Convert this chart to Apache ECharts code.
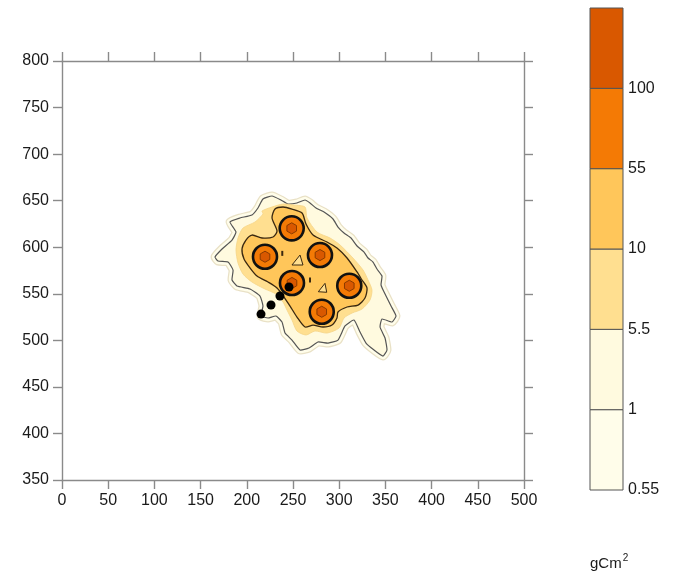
<!DOCTYPE html>
<html><head><meta charset="utf-8">
<script src="https://cdn.jsdelivr.net/npm/echarts@6/dist/echarts.min.js"></script>
<style>html,body{margin:0;padding:0;background:#fff}#c{width:679px;height:572px}</style>
</head><body><div id="c"></div>
<script>
// ---- data ----
const xRange = [0, 500];
const yRange = [350, 800];
const colorLevels = ['0.55', '1', '5.5', '10', '55', '100'];
const unitLabel = 'gCm';
const unitPower = '2';

// contour line of level 1 (outer edge of level 0.55 follows it closely)
const contour1 = [[217.5,651.8],[227.3,655.0],[237.0,650.7],[244.6,646.4],[254.3,647.5],[263.0,650.7],[268.4,647.5],[274.9,642.1],[283.6,637.8],[293.3,630.3],[298.7,621.7],[305.2,615.3],[312.8,609.9],[319.3,601.3],[326.9,594.8],[331.2,588.4],[336.6,584.1],[340.9,576.6],[346.3,569.1],[345.3,559.4],[350.7,547.6],[356.1,536.8],[361.5,526.1],[357.2,519.7],[346.3,522.9],[344.2,514.3],[349.6,502.5],[351.7,489.6],[347.4,483.1],[337.7,489.6],[329.0,497.1],[322.5,508.9],[316.0,521.8],[306.3,515.4],[298.7,500.3],[287.9,497.1],[277.1,498.2],[267.3,491.7],[257.6,489.6],[248.9,500.3],[241.4,507.8],[238.1,519.7],[231.6,526.1],[223.0,524.0],[215.4,526.1],[217.5,536.8],[214.3,547.6],[203.5,555.1],[189.4,558.3],[184.0,564.8],[185.1,575.5],[179.7,584.1],[168.8,585.2],[165.6,589.5],[173.2,598.1],[184.0,607.7],[188.3,616.3],[181.8,627.1],[192.6,631.4],[205.6,634.6],[212.1,642.1]];
// contour of level 5.5
const contour5p5 = [[216.5,638.9],[227.3,643.2],[239.2,646.4],[251.1,645.3],[263.0,643.2],[265.2,631.4],[276.0,616.3],[290.1,609.9],[300.9,602.4],[314.9,588.4],[325.8,575.5],[331.2,564.8],[335.5,554.0],[333.3,543.3],[324.7,533.6],[313.9,529.3],[305.2,524.0],[299.8,513.2],[286.8,507.8],[273.8,510.0],[264.1,505.7],[254.3,510.0],[248.9,521.8],[243.5,532.5],[239.2,541.1],[231.6,549.7],[219.7,555.1],[205.6,562.6],[195.9,571.2],[190.5,583.0],[188.3,597.0],[190.5,609.9],[195.9,620.6],[208.9,627.1],[217.5,635.7]];
// contour of level 10
const contour10 = [[230.5,641.0],[239.2,643.2],[248.9,641.0],[259.8,636.7],[264.1,624.9],[271.7,613.1],[286.8,605.6],[297.6,599.1],[308.5,588.4],[319.3,573.4],[324.7,564.8],[330.1,556.2],[327.9,545.4],[320.4,537.9],[308.5,535.8],[298.7,530.4],[297.6,524.0],[292.2,516.4],[282.5,514.3],[271.7,516.4],[263.0,514.3],[254.3,525.0],[246.8,536.8],[240.3,546.5],[232.7,556.2],[223.0,562.6],[211.0,569.1],[203.5,577.7],[197.0,587.3],[194.8,598.1],[199.1,607.7],[205.6,613.1],[216.5,609.9],[228.4,611.0],[232.7,617.4],[227.3,631.4]];
// lower pockets inside the level-10 area
const pocketA = [[257.6,591.6],[248.9,580.9],[260.8,580.9]];
const pocketB = [[284.6,561.2],[277.4,552.2],[286.5,551.6]];
const islands = [[238.4,593.4],[268.4,564.8]];
// peak centres (levels 55 and 100)
const peaks = [[248.6,620.3],[219.7,589.8],[279.2,591.6],[248.9,561.6],[310.9,558.6],[281.1,530.7]];
// sample points (black dots)
const samplePoints = [[215.4,528.2],[226.2,537.9],[235.9,547.6],[245.7,557.3]];

// ---- styles ----
const bandColors = ['#FFFDEA', '#FFFADF', '#FFDF90', '#FFC65A', '#F47A05', '#D95800'];
const peakRadius55 = 13, peakRadius100 = 6;
const axisGrey = '#8a8a8a';
const font = 'Liberation Sans, Arial, sans-serif';

function polySeries(points, style, z, smooth) {
  return {
    type: 'custom', xAxisIndex: 0, yAxisIndex: 0, z: z, silent: true, clip: false,
    data: [points[0]],
    renderItem: function (p, api) {
      return { type: 'polygon', shape: { points: points.map(pt => api.coord(pt)), smooth: smooth }, style: style };
    }
  };
}

const chart = echarts.init(document.getElementById('c'), null, { renderer: 'canvas' });
const axCommon = {
  type: 'value', gridIndex: 0,
  axisLine: { show: true, onZero: false, lineStyle: { color: axisGrey, width: 1.4 } },
  axisTick: { show: true, length: 9, lineStyle: { color: axisGrey, width: 1.4 } },
  splitLine: { show: false }
};
const option = {
  animation: false,
  backgroundColor: '#fff',
  grid: [
    { left: 62, top: 61, width: 462, height: 419 },
    { left: 590, top: 8, width: 33, height: 482 }
  ],
  xAxis: [
    Object.assign({}, axCommon, { position: 'bottom', min: xRange[0], max: xRange[1], interval: 50,
      axisLabel: { color: '#1a1a1a', fontSize: 16, fontFamily: font, margin: 13, showMinLabel: true, showMaxLabel: true } }),
    Object.assign({}, axCommon, { position: 'top', min: xRange[0], max: xRange[1], interval: 50, axisLabel: { show: false } }),
    { type: 'value', gridIndex: 1, min: 0, max: 1, show: false }
  ],
  yAxis: [
    Object.assign({}, axCommon, { position: 'left', min: yRange[0], max: yRange[1], interval: 50,
      axisLabel: { color: '#1a1a1a', fontSize: 16, fontFamily: font, margin: 13, showMinLabel: true, showMaxLabel: true } }),
    Object.assign({}, axCommon, { position: 'right', min: yRange[0], max: yRange[1], interval: 50, axisLabel: { show: false } }),
    { type: 'value', gridIndex: 1, position: 'right', min: 0, max: colorLevels.length, interval: 1,
      axisLine: { show: false }, axisTick: { show: false }, splitLine: { show: false },
      axisLabel: { color: '#1a1a1a', fontSize: 16, fontFamily: font, margin: 5, showMinLabel: true, showMaxLabel: true,
        formatter: v => (colorLevels[v] !== undefined ? colorLevels[v] : '') } }
  ],
  graphic: [{
    type: 'text', left: 590, top: 553,
    style: { text: '{a|' + unitLabel + '}{b|' + unitPower + '}', rich: {
      a: { fontSize: 15, fontFamily: font, fill: '#1a1a1a', verticalAlign: 'bottom', lineHeight: 18 },
      b: { fontSize: 10, fontFamily: font, fill: '#1a1a1a', verticalAlign: 'top', lineHeight: 18, padding: [0, 0, 6, 1] } } }
  }],
  series: [
    // level 0.55 halo
    polySeries(contour1, { fill: 'none', stroke: '#E9E1C6', lineWidth: 9, lineJoin: 'round' }, 1, 0.15),
    polySeries(contour1, { fill: bandColors[0], stroke: bandColors[0], lineWidth: 6.5, lineJoin: 'round' }, 2, 0.15),
    // level 1
    polySeries(contour1, { fill: bandColors[1], stroke: '#555', lineWidth: 1.2, lineJoin: 'round' }, 3, 0.15),
    // level 5.5
    polySeries(contour5p5, { fill: bandColors[2], stroke: '#F5D488', lineWidth: 0.8 }, 4, 0.25),
    // level 10
    polySeries(contour10, { fill: bandColors[3], stroke: '#3a2810', lineWidth: 1.3 }, 5, 0.25),
    polySeries(pocketA, { fill: bandColors[2], stroke: '#3a2810', lineWidth: 1 }, 6, 0),
    polySeries(pocketB, { fill: bandColors[2], stroke: '#3a2810', lineWidth: 1 }, 6, 0),
    {
      type: 'scatter', xAxisIndex: 0, yAxisIndex: 0, z: 6, silent: true, data: islands,
      symbol: 'rect', symbolSize: [2, 5], itemStyle: { color: '#3a2810', opacity: 1 }
    },
    // peaks: levels 55 and 100
    {
      type: 'custom', xAxisIndex: 0, yAxisIndex: 0, z: 7, silent: true, data: peaks,
      renderItem: function (p, api) {
        const c = api.coord([api.value(0), api.value(1)]);
        const r = api.size([peakRadius55, 0])[0];
        const r2 = api.size([peakRadius100, 0])[0];
        const hex = [];
        for (let k = 0; k < 6; k++) {
          const a = Math.PI / 6 + k * Math.PI / 3;
          hex.push([c[0] + r2 * Math.cos(a), c[1] + r2 * Math.sin(a)]);
        }
        return { type: 'group', children: [
          { type: 'circle', shape: { cx: c[0], cy: c[1], r: r }, style: { fill: bandColors[4], stroke: '#111', lineWidth: 2.6 } },
          { type: 'polygon', shape: { points: hex }, style: { fill: bandColors[5], stroke: '#8a3a00', lineWidth: 1 } }
        ] };
      }
    },
    {
      type: 'scatter', xAxisIndex: 0, yAxisIndex: 0, z: 8, silent: true, data: samplePoints,
      symbol: 'circle', symbolSize: 9, itemStyle: { color: '#000', opacity: 1 }
    },
    // colour bar
    {
      type: 'custom', xAxisIndex: 2, yAxisIndex: 2, z: 2, silent: true,
      data: colorLevels.map((_, i) => [0, i]),
      renderItem: function (p, api) {
        const i = api.value(1);
        const a = api.coord([0, i + 1]);
        const b = api.coord([1, i]);
        return { type: 'rect', shape: { x: a[0], y: a[1], width: b[0] - a[0], height: b[1] - a[1] },
          style: { fill: bandColors[i], stroke: '#555', lineWidth: 1 } };
      }
    }
  ]
};
chart.setOption(option);
</script></body></html>
